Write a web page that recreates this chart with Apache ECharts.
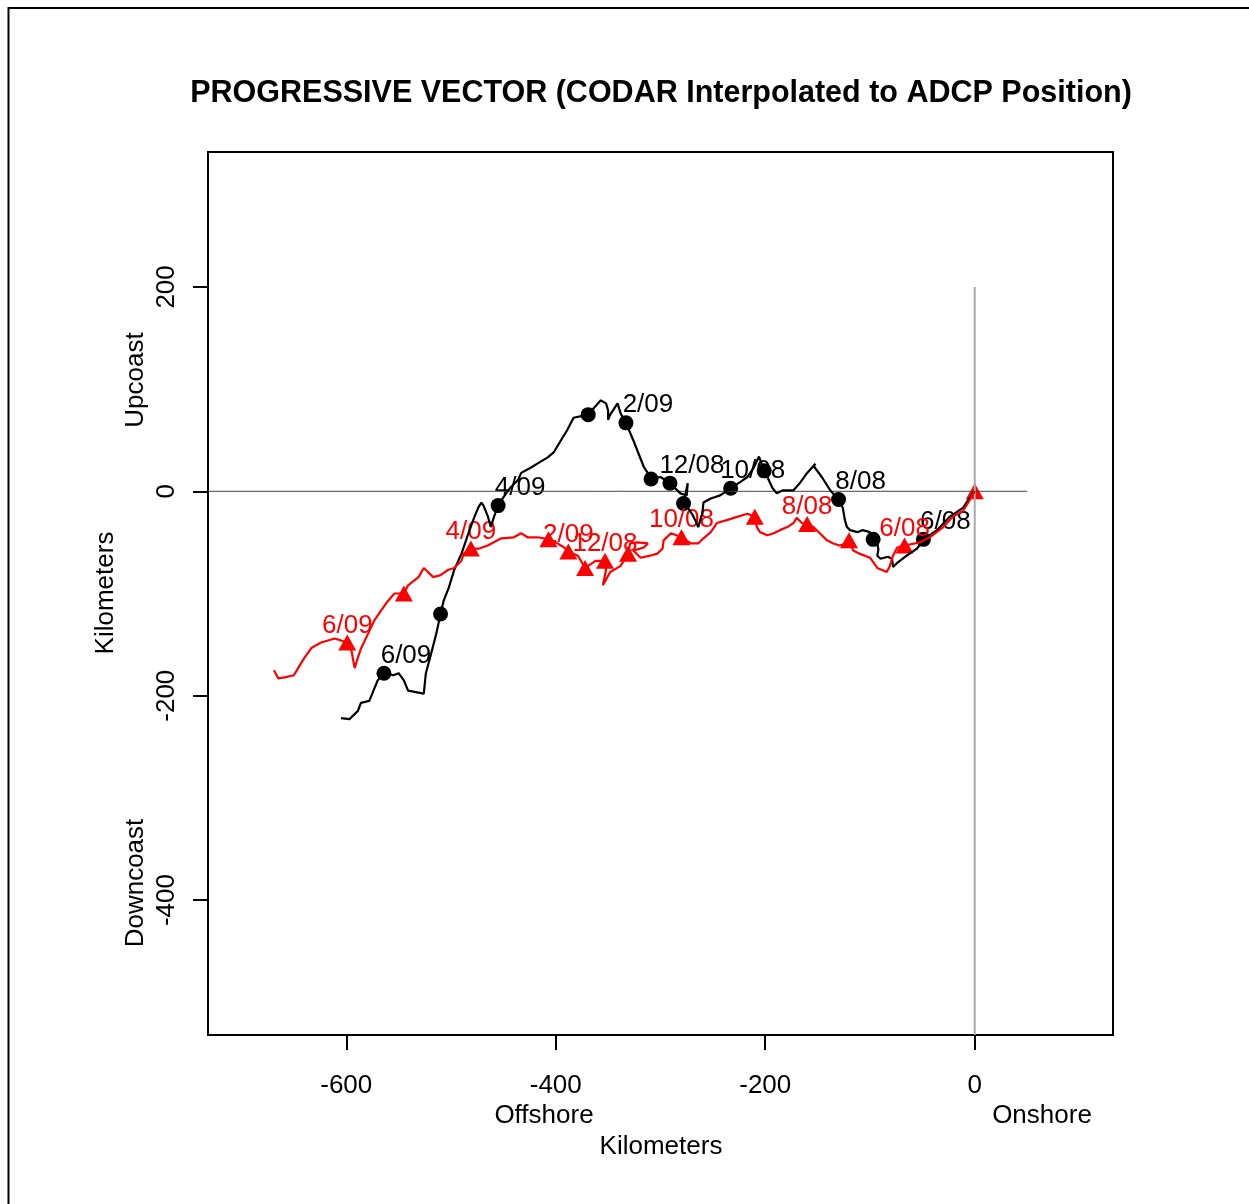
<!DOCTYPE html>
<html>
<head>
<meta charset="utf-8">
<script src="https://cdn.jsdelivr.net/npm/echarts@6/dist/echarts.min.js"></script>
<style>
html, body { margin: 0; padding: 0; background: #fff; }
#pvChart { width: 1249px; height: 1204px; }
</style>
</head>
<body>
<div id="pvChart"></div>
<script>
// km offshore (x) / upcoast (y) — ADCP track (black)
const adcpTrack = [
    [0, 0], [-2, -2], [-11, -16], [-24, -25], [-36, -38], [-49, -47], [-55, -56], [-65, -63],
    [-74, -70], [-78, -74], [-79, -66], [-83, -64], [-90, -66], [-93, -63], [-92, -57], [-93, -51],
    [-97, -47], [-100, -40], [-107, -38], [-112, -40], [-119, -38], [-122, -35], [-124, -28],
    [-126, -16], [-130, -8], [-138, 1], [-146, 14], [-154, 25], [-152, 27], [-160, 18], [-167, 8],
    [-173, 1], [-183, 1], [-189, -2], [-193, 3], [-198, 14], [-201, 20], [-206, 34], [-211, 23],
    [-217, 14], [-224, 9], [-233, 3], [-243, -4], [-252, -7], [-259, -11], [-260, -21], [-264, -35],
    [-267, -28], [-270, -22], [-274, -16], [-278, -12], [-274, 8], [-275, -4], [-281, -2],
    [-291, 8], [-300, 14], [-309, 12], [-311, 16], [-316, 24], [-321, 37], [-326, 50], [-333, 67],
    [-338, 76], [-341, 86], [-348, 75], [-350, 70], [-350, 79], [-352, 86], [-357, 89], [-364, 81],
    [-369, 75], [-383, 72], [-389, 60], [-395, 50], [-402, 38], [-408, 33], [-416, 28], [-424, 23],
    [-433, 18], [-436, 11], [-443, 4], [-450, -6], [-455, -14], [-459, -25], [-462, -35],
    [-465, -24], [-469, -14], [-471, -11], [-474, -16], [-478, -26], [-484, -43], [-490, -61],
    [-497, -77], [-502, -94], [-507, -107], [-510, -120], [-514, -139], [-519, -159], [-524, -178],
    [-526, -198], [-531, -197], [-541, -195], [-545, -185], [-550, -178], [-555, -180], [-564, -178],
    [-570, -185], [-574, -195], [-578, -205], [-586, -207], [-589, -215], [-592, -218], [-597, -223],
    [-605, -222]
]

// CODAR interpolated track (red)
const codarTrack = [
    [0, 0], [-5, -9], [-11, -19], [-21, -25], [-30, -35], [-43, -45], [-52, -50], [-67, -53],
    [-74, -55], [-78, -63], [-81, -73], [-84, -79], [-93, -75], [-100, -65], [-110, -61], [-116, -58],
    [-120, -48], [-122, -51], [-129, -53], [-135, -51], [-141, -48], [-148, -41], [-154, -35],
    [-160, -32], [-165, -31], [-170, -26], [-173, -31], [-179, -35], [-186, -38], [-192, -41],
    [-198, -43], [-205, -40], [-208, -35], [-210, -25], [-217, -22], [-227, -25], [-236, -28],
    [-246, -31], [-252, -40], [-259, -46], [-264, -51], [-271, -51], [-280, -45], [-290, -41],
    [-297, -48], [-298, -56], [-303, -61], [-310, -63], [-319, -65], [-326, -58], [-316, -55],
    [-312, -51], [-322, -50], [-329, -51], [-331, -61], [-338, -73], [-348, -79], [-355, -92],
    [-352, -77], [-353, -68], [-362, -68], [-372, -75], [-376, -68], [-379, -63], [-388, -59],
    [-392, -55], [-400, -50], [-407, -47], [-417, -45], [-427, -45], [-433, -41], [-440, -45],
    [-452, -46], [-465, -53], [-473, -56], [-481, -56], [-488, -61], [-490, -68], [-497, -75],
    [-503, -77], [-510, -82], [-517, -84], [-522, -79], [-526, -75], [-531, -84], [-541, -92],
    [-545, -100], [-554, -100], [-560, -107], [-567, -117], [-573, -126], [-579, -139], [-586, -154],
    [-589, -163], [-592, -173], [-595, -156], [-599, -148], [-611, -144], [-624, -148], [-633, -153],
    [-640, -163], [-646, -173], [-650, -180], [-659, -182], [-665, -183], [-669, -175]
]

const months = ['6/08', '7/08', '8/08', '9/08', '10/08', '11/08', '12/08',
    '1/09', '2/09', '3/09', '4/09', '5/09', '6/09']
const adcpMonthPos = [[-49, -47], [-97, -47], [-130, -8], [-201, 20], [-233, 3], [-278, -12],
    [-291, 8], [-309, 12], [-333, 67], [-369, 75], [-455, -14], [-510, -120], [-564, -178]]
const codarMonthPos = [[-67, -53], [-120, -48], [-160, -32], [-210, -25], [-280, -45], [-331, -61],
    [-353, -68], [-372, -75], [-388, -59], [-407, -47], [-481, -56], [-545, -100], [-599, -148]]
const codarStart = [[0, 0]]

const xTicks = [-600, -400, -200, 0]
const yTicks = [-400, -200, 0, 200]
const zeroLineH = [[-732, 0], [50, 0]]
const zeroLineV = [[0, 200], [0, -532]]

const font = "'Liberation Sans', Arial, sans-serif"

function monthItems(pos, showLabel) {
    return pos.map((p, i) => ({
        value: p,
        name: months[i],
        label: { show: showLabel && i % 2 === 0 }
    }))
}

let pvChart = echarts.init(document.getElementById('pvChart'))
let option = {
    animation: false,
    backgroundColor: '#fff',
    grid: {
        left: 208, top: 152, width: 905, height: 883,
        show: true, borderColor: '#000', borderWidth: 2
    },
    xAxis: {
        type: 'value', min: -732, max: 132,
        splitLine: { show: false },
        axisLine: { show: false, onZero: false },
        axisTick: { show: true, length: 15, lineStyle: { color: '#000', width: 2 }, customValues: xTicks },
        axisLabel: { color: '#000', fontSize: 26, fontFamily: font, margin: 38, customValues: xTicks }
    },
    yAxis: {
        type: 'value', min: -532, max: 332,
        splitLine: { show: false },
        axisLine: { show: false, onZero: false },
        axisTick: { show: true, length: 15, lineStyle: { color: '#000', width: 2 }, customValues: yTicks },
        axisLabel: { color: '#000', fontSize: 26, fontFamily: font, margin: 28, rotate: 90, customValues: yTicks }
    },
    graphic: [
        { type: 'rect', shape: { x: 8.5, y: 8, width: 1300, height: 1300 }, style: { fill: 'none', stroke: '#000', lineWidth: 2 } },
        { type: 'text', x: 661, y: 94, style: { text: 'PROGRESSIVE VECTOR (CODAR Interpolated to ADCP Position)', font: 'bold 30.5px ' + font, fill: '#000', textAlign: 'center', textVerticalAlign: 'middle' } },
        { type: 'text', x: 544, y: 1116, style: { text: 'Offshore', font: '26px ' + font, fill: '#000', textAlign: 'center', textVerticalAlign: 'middle' } },
        { type: 'text', x: 1042, y: 1116, style: { text: 'Onshore', font: '26px ' + font, fill: '#000', textAlign: 'center', textVerticalAlign: 'middle' } },
        { type: 'text', x: 661, y: 1147, style: { text: 'Kilometers', font: '26px ' + font, fill: '#000', textAlign: 'center', textVerticalAlign: 'middle' } },
        { type: 'text', x: 136, y: 380, rotation: Math.PI / 2, style: { text: 'Upcoast', font: '26px ' + font, fill: '#000', textAlign: 'center', textVerticalAlign: 'middle' } },
        { type: 'text', x: 136, y: 883, rotation: Math.PI / 2, style: { text: 'Downcoast', font: '26px ' + font, fill: '#000', textAlign: 'center', textVerticalAlign: 'middle' } },
        { type: 'text', x: 106, y: 593, rotation: Math.PI / 2, style: { text: 'Kilometers', font: '26px ' + font, fill: '#000', textAlign: 'center', textVerticalAlign: 'middle' } }
    ],
    series: [
        {
            type: 'line', data: zeroLineH, symbol: 'none', silent: true,
            lineStyle: { color: '#444', width: 1 }
        },
        {
            type: 'line', data: zeroLineV, symbol: 'none', silent: true,
            lineStyle: { color: '#aaa', width: 2 }
        },
        {
            name: 'ADCP', type: 'line', data: adcpTrack, symbol: 'none',
            lineStyle: { color: '#000', width: 2.2 }
        },
        {
            name: 'CODAR', type: 'line', data: codarTrack, symbol: 'none',
            lineStyle: { color: '#f00', width: 2.2 }
        },
        {
            type: 'scatter', data: monthItems(adcpMonthPos, true),
            symbol: 'circle', symbolSize: 15,
            itemStyle: { color: '#000', opacity: 1 },
            label: {
                position: 'top', distance: -3, offset: [22, 0],
                formatter: '{b}', color: '#000', fontSize: 26, fontFamily: font
            }
        },
        {
            type: 'scatter', data: monthItems(codarMonthPos, true).concat(codarStart),
            symbol: 'triangle', symbolSize: [18, 16],
            itemStyle: { color: '#f00', opacity: 1 },
            label: {
                position: 'top', distance: -4,
                formatter: '{b}', color: '#f00', fontSize: 26, fontFamily: font
            }
        }
    ]
}
pvChart.setOption(option)
</script>
</body>
</html>
